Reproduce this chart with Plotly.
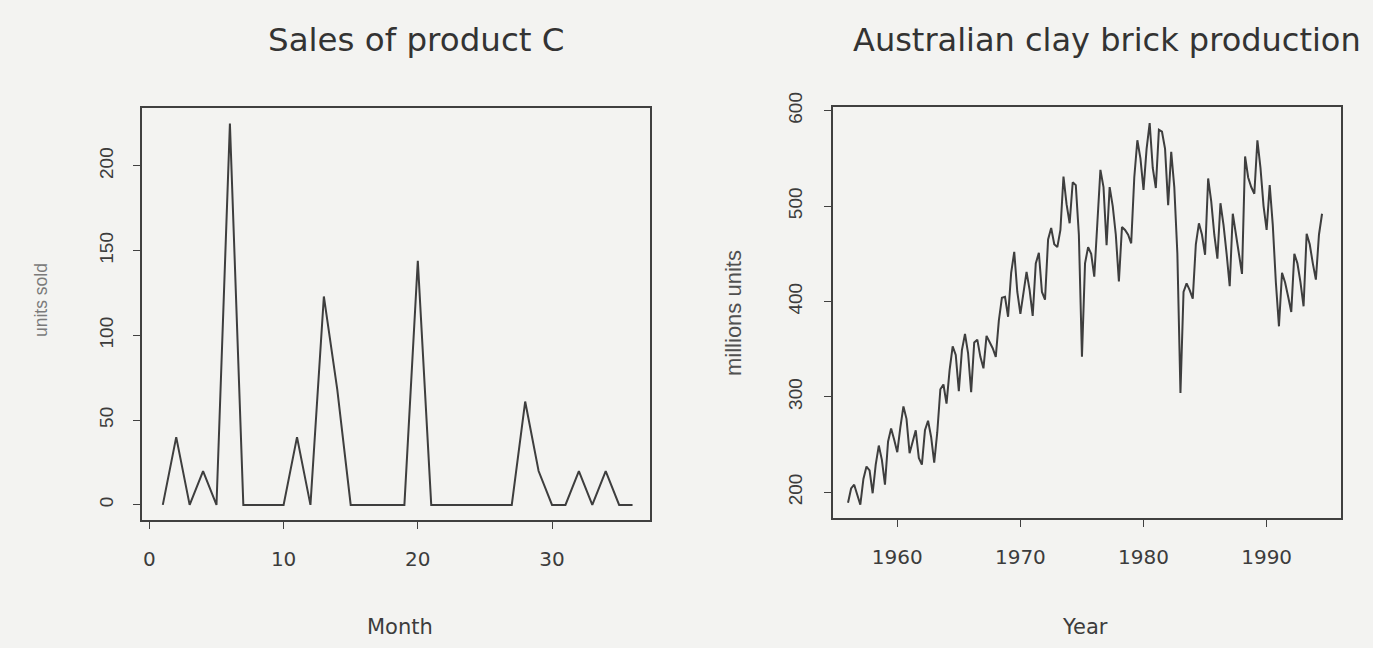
import plotly.graph_objects as go

# Sales of product C: monthly units sold, months 1-36
months = list(range(1, 37))
units_sold = [0, 40, 0, 20, 0, 225, 0, 0, 0, 0, 40, 0,
              123, 68, 0, 0, 0, 0, 0, 144, 0, 0, 0, 0,
              0, 0, 0, 61, 20, 0, 0, 20, 0, 20, 0, 0]

# Australian clay brick production (millions of units), quarterly 1956 Q1 - 1994 Q3
brick_years = list(range(1956, 1995))
brick_quarterly = [
    189, 204, 208, 197,   # 1956
    187, 214, 227, 223,   # 1957
    199, 229, 249, 234,   # 1958
    208, 253, 267, 255,   # 1959
    242, 268, 290, 277,   # 1960
    241, 253, 265, 236,   # 1961
    229, 265, 275, 258,   # 1962
    231, 263, 308, 313,   # 1963
    293, 328, 353, 344,   # 1964
    306, 349, 366, 346,   # 1965
    305, 357, 360, 342,   # 1966
    330, 364, 358, 351,   # 1967
    342, 380, 404, 405,   # 1968
    384, 430, 452, 410,   # 1969
    387, 410, 431, 412,   # 1970
    385, 440, 451, 410,   # 1971
    402, 465, 477, 460,   # 1972
    457, 475, 531, 502,   # 1973
    482, 525, 522, 470,   # 1974
    342, 440, 457, 450,   # 1975
    426, 482, 538, 520,   # 1976
    459, 520, 500, 470,   # 1977
    421, 478, 475, 470,   # 1978
    461, 530, 569, 550,   # 1979
    517, 560, 587, 540,   # 1980
    519, 580, 578, 560,   # 1981
    501, 557, 520, 450,   # 1982
    304, 410, 419, 412,   # 1983
    403, 460, 482, 470,   # 1984
    449, 529, 505, 470,   # 1985
    445, 503, 480, 450,   # 1986
    416, 492, 470, 450,   # 1987
    429, 552, 530, 520,   # 1988
    513, 569, 540, 500,   # 1989
    475, 522, 480, 420,   # 1990
    374, 430, 420, 405,   # 1991
    389, 450, 440, 420,   # 1992
    395, 471, 460, 440,   # 1993
    423, 470, 492,        # 1994
]
brick_time = [brick_years[0] + i / 4 for i in range(len(brick_quarterly))]

PAGE = "#f3f3f1"
INK = "#3e3e3e"
H_FONT = "DejaVu Sans"
V_FONT = "Liberation Sans"
W, H = 1373, 648


def px_x(p):
    return p / W


def px_y(p):
    return 1 - p / H


fig = go.Figure()
fig.add_trace(go.Scatter(x=months, y=units_sold, mode="lines",
                         line=dict(color=INK, width=2), xaxis="x", yaxis="y",
                         showlegend=False, hoverinfo="skip"))
fig.add_trace(go.Scatter(x=brick_time, y=brick_quarterly, mode="lines",
                         line=dict(color=INK, width=2), xaxis="x2", yaxis="y2",
                         showlegend=False, hoverinfo="skip"))

axis_common = dict(showline=True, mirror=True, linecolor="#404040", linewidth=1.6,
                   ticks="outside", ticklen=7, tickwidth=1.4, tickcolor="#404040",
                   showgrid=False, zeroline=False, fixedrange=True, automargin=False)

fig.update_layout(
    width=W, height=H,
    margin=dict(l=0, r=0, t=0, b=0, pad=0, autoexpand=False),
    paper_bgcolor=PAGE, plot_bgcolor=PAGE,
    xaxis=dict(axis_common, domain=[px_x(142), px_x(650)], range=[-0.55, 37.3],
               tickvals=[0, 10, 20, 30], ticklabelstandoff=13,
               tickfont=dict(family=H_FONT, size=20, color="#3c3c3c"), anchor="y"),
    yaxis=dict(axis_common, domain=[px_y(520), px_y(108)], range=[-8.9, 234.2],
               tickvals=[0, 50, 100, 150, 200], tickangle=-90, ticklabelstandoff=13,
               tickfont=dict(family=V_FONT, size=19, color="#3c3c3c"), anchor="x"),
    xaxis2=dict(axis_common, domain=[px_x(833), px_x(1341)], range=[1954.78, 1996.04],
                tickvals=[1960, 1970, 1980, 1990], ticklabelstandoff=13,
                tickfont=dict(family=H_FONT, size=20, color="#3c3c3c"), anchor="y2"),
    yaxis2=dict(axis_common, domain=[px_y(518), px_y(107)], range=[173.06, 603.9],
                tickvals=[200, 300, 400, 500, 600], tickangle=-90, ticklabelstandoff=15,
                tickfont=dict(family=V_FONT, size=19, color="#3c3c3c"), anchor="x2"),
)

labels = [
    ("Sales of product C", 416, 40, 0, H_FONT, 32.5, "#333333"),
    ("Australian clay brick production", 1107, 40, 0, H_FONT, 32, "#333333"),
    ("Month", 400, 627, 0, H_FONT, 21, "#3c3c3c"),
    ("Year", 1085, 627, 0, H_FONT, 21, "#3c3c3c"),
    ("units sold", 41, 300, -90, V_FONT, 17.5, "#7a7a7a"),
    ("millions units", 733, 313, -90, V_FONT, 22, "#505050"),
]
for text, x, y, ang, fam, size, col in labels:
    fig.add_annotation(text=text, x=px_x(x), y=px_y(y), xref="paper", yref="paper",
                       xanchor="center", yanchor="middle", showarrow=False,
                       textangle=ang, font=dict(family=fam, size=size, color=col))

fig.write_html("out.html")
